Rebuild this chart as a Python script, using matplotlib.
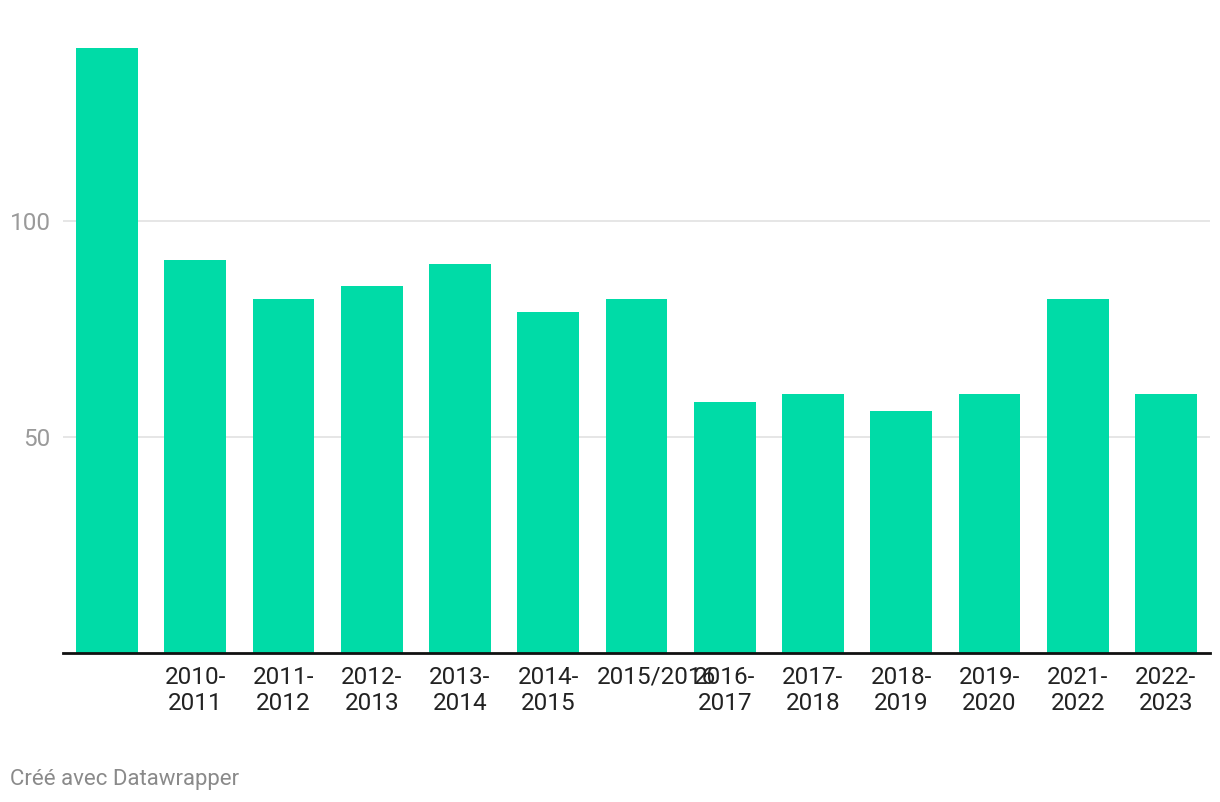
import matplotlib
matplotlib.use("Agg")
import matplotlib.pyplot as plt
import matplotlib.transforms as mtransforms

plt.rcParams['font.family'] = ['Roboto', 'DejaVu Sans']

# ---------- data ----------
labels = ["", "2010-\n2011", "2011-\n2012", "2012-\n2013", "2013-\n2014", "2014-\n2015",
          "2015/2016", "2016-\n2017", "2017-\n2018", "2018-\n2019", "2019-\n2020",
          "2021-\n2022", "2022-\n2023"]
values = [140, 91, 82, 85, 90, 79, 82, 58, 60, 56, 60, 82, 60]
y_ticks = [50, 100]

bar_color = "#00dba7"

fig = plt.figure(figsize=(12.2, 8.02), dpi=100)
ax = fig.add_axes([63 / 1220, 1 - 653 / 802, 1147 / 1220, (653 - 48) / 802])

x = list(range(len(values)))
ax.bar(x, values, width=0.70, color=bar_color, zorder=2)

ax.set_xlim(-0.5, len(values) - 0.5)
ax.set_ylim(0, 140)

# gridlines
ax.set_yticks(y_ticks)
ax.yaxis.grid(True, color="#e2e2e2", linewidth=1.2, zorder=0)
ax.set_axisbelow(True)
ax.tick_params(axis="y", length=0, pad=9, labelsize=17.5, labelcolor="#9a9a9a")

ax.set_xticks(x)
ax.set_xticklabels(labels, fontsize=17.5, color="#222222", linespacing=1.2)
ax.tick_params(axis="x", length=0, pad=9)

# the single-line label sits a bit to the right in the original
for lbl in ax.get_xticklabels():
    if lbl.get_text() == "2015/2016":
        lbl.set_transform(lbl.get_transform() +
                          mtransforms.ScaledTranslation(0.20, 0, fig.dpi_scale_trans))

for side in ["top", "right", "left"]:
    ax.spines[side].set_visible(False)
ax.spines["bottom"].set_color("#111111")
ax.spines["bottom"].set_linewidth(2)
ax.spines["bottom"].set_zorder(3)

fig.text(10 / 1220, 1 - 779 / 802, "Créé avec Datawrapper", fontsize=16,
         color="#8a8a8a", va="center", ha="left")

fig.savefig("out.png", dpi=100)
